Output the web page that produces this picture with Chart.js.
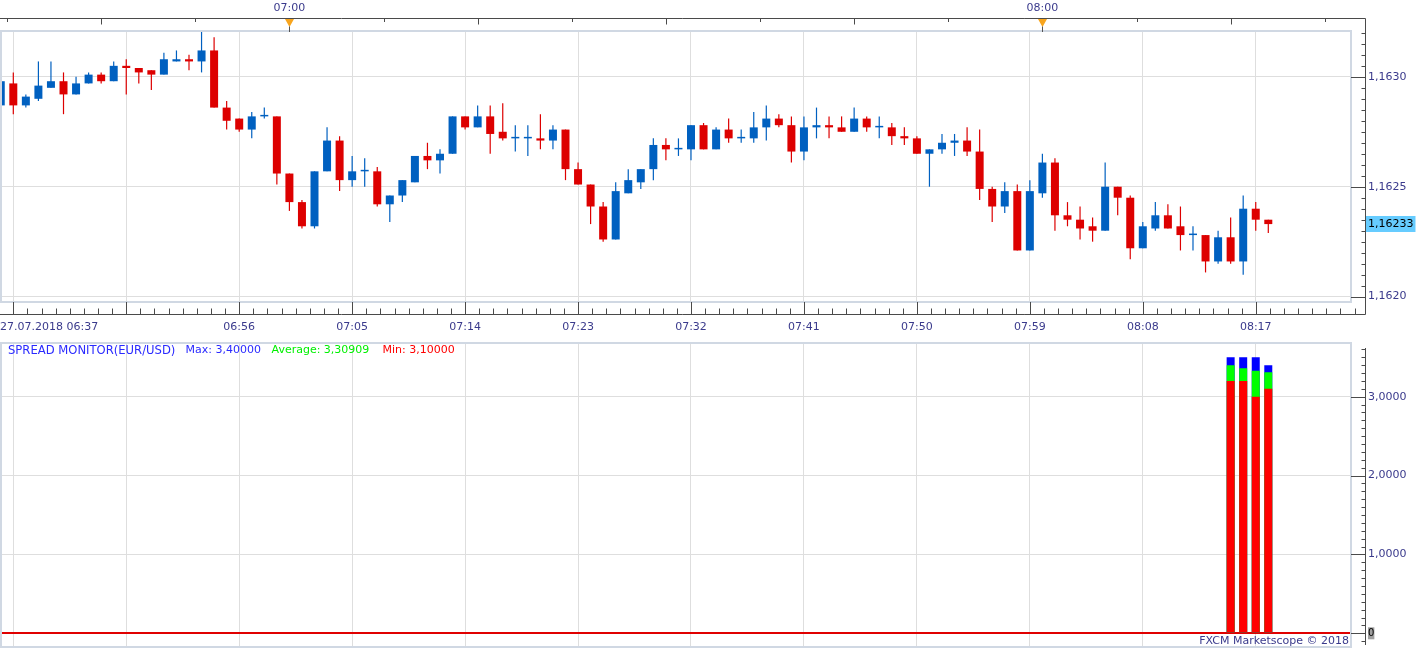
<!DOCTYPE html>
<html>
<head>
<meta charset="utf-8">
<script src="https://cdn.jsdelivr.net/npm/chart.js@4/dist/chart.umd.min.js"></script>
<style>
html,body{margin:0;padding:0;background:#fff;overflow:hidden;width:1423px;height:649px}
#c1{position:absolute;left:0;top:0}
#c2{position:absolute;left:0;top:337px}
</style>
</head>
<body>
<canvas id="c1" width="1423" height="337"></canvas>
<canvas id="c2" width="1423" height="312"></canvas>
<script>
// ---------- DATA ----------
const symbol = 'EUR/USD';
const dateLabel = '27.07.2018';
const times = [
 '06:37','06:38','06:39','06:40','06:41','06:42','06:43','06:44','06:45','06:46','06:47','06:48','06:49','06:50','06:51','06:52','06:53','06:54','06:55','06:56','06:57','06:58','06:59',
 '07:00','07:01','07:02','07:03','07:04','07:05','07:06','07:07','07:08','07:09','07:10','07:11','07:12','07:13','07:14','07:15','07:16','07:17','07:18','07:19',
 '07:20','07:21','07:22','07:23','07:24','07:25','07:26','07:27','07:28','07:29','07:30','07:31','07:32','07:33','07:34','07:35','07:36','07:37','07:38','07:39',
 '07:40','07:41','07:42','07:43','07:44','07:45','07:46','07:47','07:48','07:49','07:50','07:51','07:52','07:53','07:54','07:55','07:56','07:57','07:58','07:59',
 '08:00','08:01','08:02','08:03','08:04','08:05','08:06','08:07','08:08','08:09','08:10','08:11','08:12','08:13','08:14','08:15','08:16','08:17','08:18'
];
const open = [
 1.16287,1.16297,1.16287,1.16290,1.16295,1.16298,1.16292,1.16297,1.16301,1.16298,
 1.16305,1.16304,1.16303,1.16301,1.16307,1.16308,1.16307,1.16312,1.16286,1.16281,
 1.16276,1.16282,1.16282,1.16256,1.16243,1.16232,1.16257,1.16271,1.16253,1.16257,
 1.16257,1.16242,1.16246,1.16252,1.16264,1.16262,1.16265,1.16282,1.16277,1.16282,
 1.16275,1.16272,1.16272,1.16272,1.16271,1.16276,1.16258,1.16251,1.16241,1.16226,
 1.16247,1.16252,1.16258,1.16269,1.16267,1.16267,1.16278,1.16267,1.16276,1.16272,
 1.16272,1.16277,1.16281,1.16278,1.16266,1.16277,1.16278,1.16277,1.16275,1.16281,
 1.16277,1.16277,1.16273,1.16272,1.16265,1.16267,1.16270,1.16271,1.16266,1.16249,
 1.16241,1.16248,1.16221,1.16247,1.16261,1.16237,1.16235,1.16232,1.16230,1.16250,
 1.16245,1.16222,1.16231,1.16237,1.16232,1.16228,1.16228,1.16216,1.16227,1.16216,
 1.16240,1.16235
];
const high = [
 1.16298,1.16302,1.16292,1.16307,1.16307,1.16302,1.16300,1.16302,1.16302,1.16307,
 1.16308,1.16304,1.16303,1.16311,1.16312,1.16310,1.16321,1.16318,1.16289,1.16281,
 1.16284,1.16286,1.16282,1.16256,1.16244,1.16257,1.16277,1.16273,1.16264,1.16263,
 1.16259,1.16246,1.16253,1.16264,1.16270,1.16267,1.16282,1.16282,1.16287,1.16287,
 1.16288,1.16278,1.16278,1.16283,1.16278,1.16276,1.16261,1.16251,1.16243,1.16252,
 1.16258,1.16258,1.16272,1.16272,1.16272,1.16278,1.16279,1.16277,1.16281,1.16276,
 1.16284,1.16287,1.16283,1.16282,1.16282,1.16286,1.16282,1.16282,1.16286,1.16282,
 1.16282,1.16279,1.16277,1.16273,1.16267,1.16274,1.16274,1.16277,1.16276,1.16250,
 1.16252,1.16251,1.16253,1.16265,1.16263,1.16243,1.16241,1.16236,1.16261,1.16250,
 1.16246,1.16234,1.16243,1.16242,1.16241,1.16232,1.16228,1.16230,1.16236,1.16246,
 1.16243,1.16235
];
const low = [
 1.16287,1.16283,1.16286,1.16289,1.16295,1.16283,1.16292,1.16297,1.16297,1.16298,
 1.16292,1.16297,1.16294,1.16301,1.16307,1.16303,1.16302,1.16286,1.16276,1.16275,
 1.16272,1.16281,1.16251,1.16239,1.16231,1.16231,1.16257,1.16248,1.16250,1.16250,
 1.16241,1.16234,1.16243,1.16252,1.16258,1.16256,1.16265,1.16276,1.16277,1.16265,
 1.16271,1.16266,1.16264,1.16267,1.16267,1.16253,1.16251,1.16233,1.16225,1.16226,
 1.16247,1.16249,1.16253,1.16262,1.16264,1.16262,1.16267,1.16267,1.16270,1.16270,
 1.16270,1.16271,1.16277,1.16261,1.16262,1.16272,1.16272,1.16275,1.16275,1.16275,
 1.16272,1.16269,1.16269,1.16265,1.16250,1.16265,1.16264,1.16264,1.16244,1.16234,
 1.16238,1.16221,1.16221,1.16245,1.16230,1.16232,1.16226,1.16225,1.16230,1.16237,
 1.16217,1.16222,1.16230,1.16231,1.16221,1.16221,1.16211,1.16215,1.16215,1.16210,
 1.16230,1.16229
];
const close = [
 1.16298,1.16287,1.16291,1.16296,1.16298,1.16292,1.16297,1.16301,1.16298,1.16305,
 1.16304,1.16302,1.16301,1.16308,1.16308,1.16307,1.16312,1.16286,1.16280,1.16276,
 1.16282,1.16282,1.16256,1.16243,1.16232,1.16257,1.16271,1.16253,1.16257,1.16257,
 1.16242,1.16246,1.16253,1.16264,1.16262,1.16265,1.16282,1.16277,1.16282,1.16274,
 1.16272,1.16272,1.16272,1.16271,1.16276,1.16258,1.16251,1.16241,1.16226,1.16248,
 1.16253,1.16258,1.16269,1.16267,1.16267,1.16278,1.16267,1.16276,1.16272,1.16272,
 1.16277,1.16281,1.16278,1.16266,1.16277,1.16278,1.16277,1.16275,1.16281,1.16277,
 1.16277,1.16273,1.16272,1.16265,1.16267,1.16270,1.16271,1.16266,1.16249,1.16241,
 1.16248,1.16221,1.16248,1.16261,1.16237,1.16235,1.16231,1.16230,1.16250,1.16245,
 1.16222,1.16232,1.16237,1.16231,1.16228,1.16228,1.16216,1.16227,1.16216,1.16240,
 1.16235,1.16233
];
const priceTicks = [1.1620, 1.1625, 1.1630];
const timeGridTicks = ['06:38','06:47','06:56','07:05','07:14','07:23','07:32','07:41','07:50','07:59','08:08','08:17'];
const timeTickLabels = ['','','06:56','07:05','07:14','07:23','07:32','07:41','07:50','07:59','08:08','08:17'];
const hourTicks = ['07:00','08:00'];

const spreadTimes = ['08:15','08:16','08:17','08:18'];
const spreadMax = [3.5, 3.5, 3.5, 3.4];
const spreadAvg = [3.4, 3.36, 3.33, 3.30909];
const spreadMin = [3.2, 3.2, 3.0, 3.1];
const spreadTicks = [0, 1, 2, 3];

// ---------- STYLE ----------
const FONT = '"DejaVu Sans", Verdana, sans-serif';
const UP = '#0060c0', DOWN = '#dd0000';
const GRID = '#dedede', FRAME = '#d0d8e3', AXIS = '#4a4a4a', TXT = '#3a3a8c';
const AXIS_X = 1365.5;
const CLEAR = 'rgba(0,0,0,0)';

Chart.defaults.font.family = FONT;
Chart.defaults.font.size = 11;

const pos = t => times.indexOf(t);
const fmt = (v, d) => v.toFixed(d).replace('.', ',');
const lastClose = close[close.length - 1];
const xMin = -0.06, xMax = 107.67;
const yMin = 1.161971, yMax = 1.163213;
const sMin = -0.1864, sMax = 3.6935;
const fixAxis = (w, h) => s => {
  if (w != null) s.width = w;
  if (h != null) s.height = h;
  s.paddingLeft = 0; s.paddingRight = 0; s.paddingTop = 0; s.paddingBottom = 0;
};
const candleColors = close.map((c, i) => c >= open[i] ? UP : DOWN);

// ---------- TOP PANEL DECOR ----------
const topDecor = {
  id: 'topDecor',
  afterDraw(chart) {
    const {ctx, chartArea: ca} = chart;
    const xs = chart.scales.x, ys = chart.scales.y;
    const TOPY = 18.5, BOTY = 314.5;
    ctx.save();
    ctx.strokeStyle = FRAME; ctx.lineWidth = 2;
    ctx.strokeRect(ca.left + 1, ca.top + 1, ca.right - ca.left - 2, ca.bottom - ca.top - 2);
    ctx.strokeStyle = AXIS; ctx.lineWidth = 1;
    ctx.beginPath();
    ctx.moveTo(0, TOPY); ctx.lineTo(AXIS_X, TOPY); ctx.lineTo(AXIS_X, BOTY); ctx.lineTo(0, BOTY);
    for (let k = 0; k <= 24; k++) {
      const v = priceTicks[0] + k * 0.00005;
      const py = Math.round(ys.getPixelForValue(v)) + 0.5;
      const major = k % 10 === 0;
      ctx.moveTo(major ? ca.right - 1 : AXIS_X - 4, py); ctx.lineTo(AXIS_X, py);
    }
    const g0 = pos(timeGridTicks[0]);
    for (let k = -2; k < 200; k++) {
      const px = xs.getPixelForValue(g0 + k * 9 / 8);
      if (px > AXIS_X) break;
      if (px < 0) continue;
      const p = Math.round(px) + 0.5;
      const major = ((k % 8) + 8) % 8 === 0;
      ctx.moveTo(p, major ? ca.bottom - 1 : BOTY - 6); ctx.lineTo(p, BOTY);
    }
    const h0 = pos(hourTicks[0]);
    const hourPx = [];
    for (let k = -6; k <= 14; k++) {
      const px = xs.getPixelForValue(h0 + k * 7.5);
      if (px < 0 || px > AXIS_X) continue;
      const p = Math.round(px) + 0.5;
      const m = ((k % 8) + 8) % 8;
      if (m === 0) { hourPx.push(p); continue; }
      ctx.moveTo(p, TOPY); ctx.lineTo(p, m % 2 === 0 ? TOPY + 6 : TOPY + 3.5);
    }
    ctx.stroke();
    hourPx.forEach(p => {
      ctx.beginPath();
      ctx.moveTo(p - 4.5, TOPY + 0.5); ctx.lineTo(p + 4.5, TOPY + 0.5); ctx.lineTo(p, TOPY + 8.5); ctx.closePath();
      ctx.fillStyle = '#f8a51e'; ctx.fill();
      ctx.beginPath(); ctx.moveTo(p, TOPY + 8); ctx.lineTo(p, ca.top + 2);
      ctx.strokeStyle = '#555'; ctx.lineWidth = 1; ctx.stroke();
    });
    ctx.restore();
  }
};

// ---------- BOTTOM PANEL DECOR ----------
const botDecor = {
  id: 'botDecor',
  afterDraw(chart) {
    const {ctx, chartArea: ca} = chart;
    const ys = chart.scales.y;
    ctx.save();
    ctx.strokeStyle = FRAME; ctx.lineWidth = 2;
    ctx.strokeRect(ca.left + 1, ca.top + 1, ca.right - ca.left - 2, ca.bottom - ca.top - 2);
    ctx.strokeStyle = AXIS; ctx.lineWidth = 1;
    ctx.beginPath();
    ctx.moveTo(AXIS_X, 11); ctx.lineTo(AXIS_X, 308);
    for (let k = -1; k <= 36; k++) {
      const py = Math.round(ys.getPixelForValue(k / 10)) + 0.5;
      const major = k >= 0 && k % 10 === 0;
      ctx.moveTo(major ? ca.right - 1 : AXIS_X - 4, py); ctx.lineTo(AXIS_X, py);
    }
    ctx.stroke();
    const n = spreadMax.length - 1;
    const parts = [
      ['SPREAD MONITOR(' + symbol + ')', '#2a2aff', 8, 11.6],
      ['Max: ' + fmt(spreadMax[n], 5), '#2a2aff', 185.5, 11],
      ['Average: ' + fmt(spreadAvg[n], 5), '#00f000', 271.5, 11],
      ['Min: ' + fmt(spreadMin[n], 5), '#ff0000', 382.5, 11]
    ];
    ctx.textBaseline = 'middle'; ctx.textAlign = 'left';
    parts.forEach(([t, c, x, sz]) => {
      ctx.font = sz + 'px ' + FONT; ctx.fillStyle = c; ctx.fillText(t, x, 13.5);
    });
    ctx.font = '11px ' + FONT;
    ctx.textAlign = 'right'; ctx.fillStyle = TXT;
    ctx.fillText('FXCM Marketscope \u00A9 2018', 1349, 304);
    ctx.restore();
  }
};

// ---------- TOP CHART ----------
new Chart(document.getElementById('c1'), {
  type: 'bar',
  data: {
    datasets: [
      { label: 'body', data: times.map((t, i) => ({x: i, y: [open[i], close[i]]})),
        backgroundColor: candleColors, barThickness: 8, minBarLength: 1.5, grouped: false,
        order: 1, inflateAmount: 0, borderWidth: 0, xAxisID: 'x', yAxisID: 'y' },
      { label: 'wick', data: times.map((t, i) => ({x: i, y: [low[i], high[i]]})),
        backgroundColor: candleColors, barThickness: 1.2, grouped: false,
        order: 2, inflateAmount: 0, borderWidth: 0, xAxisID: 'x', yAxisID: 'y' }
    ]
  },
  options: {
    responsive: false, animation: false, devicePixelRatio: 1, events: [],
    layout: {padding: 0},
    plugins: {legend: {display: false}, tooltip: {enabled: false}, title: {display: false}},
    scales: {
      x: {
        type: 'linear', position: 'bottom', min: xMin, max: xMax, offset: false,
        afterBuildTicks: s => { s.ticks = [xMin, ...timeGridTicks.map(pos), xMax].map(v => ({value: v})); },
        afterFit: fixAxis(null, 34),
        grid: { offset: false, drawTicks: false, lineWidth: 1,
          color: c => (c.tick && (c.tick.value === xMin || c.tick.value === xMax)) ? CLEAR : GRID },
        border: {display: false},
        ticks: { autoSkip: false, maxRotation: 0, minRotation: 0, align: 'inner', padding: 18, color: TXT,
          font: {size: 11},
          callback: (v, i) => i === 0 ? dateLabel + ' ' + times[0] : (i <= timeTickLabels.length ? timeTickLabels[i - 1] : '') }
      },
      xTop: {
        type: 'linear', position: 'top', min: xMin, max: xMax, offset: false,
        afterBuildTicks: s => { s.ticks = hourTicks.map(pos).map(v => ({value: v})); },
        afterFit: fixAxis(null, 30),
        grid: {display: false, drawTicks: false, offset: false},
        border: {display: false},
        ticks: { autoSkip: false, maxRotation: 0, minRotation: 0, padding: 15, color: TXT, font: {size: 11},
          callback: (v, i) => hourTicks[i] }
      },
      y: {
        type: 'linear', position: 'right', min: yMin, max: yMax, beginAtZero: false,
        afterBuildTicks: s => { s.ticks = [...priceTicks, lastClose].sort((a, b) => a - b).map(v => ({value: v})); },
        afterFit: fixAxis(71, null),
        grid: { drawTicks: false, color: c => (c.tick && c.tick.value === lastClose) ? CLEAR : GRID },
        border: {display: false},
        ticks: { padding: 16, font: {size: 11},
          color: c => (c.tick && c.tick.value === lastClose) ? '#000000' : TXT,
          callback: v => v === lastClose ? fmt(v, 5) : fmt(v, 4),
          showLabelBackdrop: c => !!(c.tick && c.tick.value === lastClose),
          backdropColor: '#66ccff',
          backdropPadding: {left: 3, right: 2, top: 1.5, bottom: 1.3} }
      }
    }
  },
  plugins: [topDecor]
});

// ---------- BOTTOM CHART ----------
const spreadData = arr => spreadTimes.map((t, k) => ({x: pos(t), y: arr[k]}));
new Chart(document.getElementById('c2'), {
  type: 'bar',
  data: {
    datasets: [
      { label: 'Min', data: spreadData(spreadMin), backgroundColor: '#ff0000', barThickness: 8,
        grouped: false, order: 1, inflateAmount: 0, borderWidth: 0 },
      { label: 'Average', data: spreadData(spreadAvg), backgroundColor: '#00ff00', barThickness: 8,
        grouped: false, order: 2, inflateAmount: 0, borderWidth: 0 },
      { label: 'Max', data: spreadData(spreadMax), backgroundColor: '#0000ff', barThickness: 8,
        grouped: false, order: 3, inflateAmount: 0, borderWidth: 0 }
    ]
  },
  options: {
    responsive: false, animation: false, devicePixelRatio: 1, events: [],
    layout: {padding: {top: 5, bottom: 1, left: 0, right: 0}},
    plugins: {legend: {display: false}, tooltip: {enabled: false}},
    scales: {
      x: {
        type: 'linear', position: 'bottom', min: xMin, max: xMax, offset: false,
        afterBuildTicks: s => { s.ticks = timeGridTicks.map(pos).map(v => ({value: v})); },
        afterFit: fixAxis(null, 0),
        grid: {offset: false, drawTicks: false, color: GRID},
        border: {display: false},
        ticks: {display: false}
      },
      y: {
        type: 'linear', position: 'right', min: sMin, max: sMax, beginAtZero: false,
        afterBuildTicks: s => { s.ticks = spreadTicks.map(v => ({value: v})); },
        afterFit: fixAxis(71, null),
        grid: { drawTicks: false,
          color: c => (c.tick && c.tick.value === 0) ? '#e00000' : GRID,
          lineWidth: c => (c.tick && c.tick.value === 0) ? 2 : 1 },
        border: {display: false},
        ticks: { padding: 16,
          font: c => (c.tick && c.tick.value === 0) ? {size: 10} : {size: 11},
          color: c => (c.tick && c.tick.value === 0) ? '#000000' : TXT,
          callback: v => v === 0 ? '0' : fmt(v, 4),
          showLabelBackdrop: c => !!(c.tick && c.tick.value === 0),
          backdropColor: '#a0a0a0',
          backdropPadding: 0 }
      }
    }
  },
  plugins: [botDecor]
});
</script>
</body>
</html>
